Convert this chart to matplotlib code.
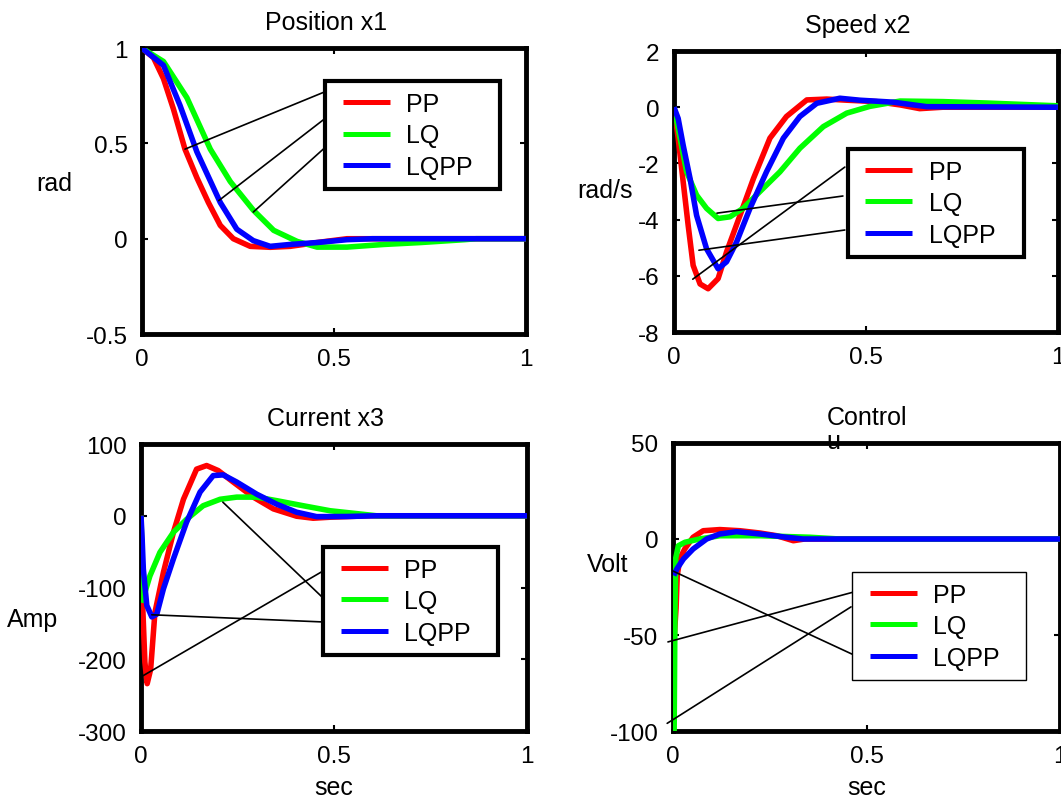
import matplotlib
matplotlib.use('Agg')
import matplotlib.pyplot as plt
from matplotlib.legend_handler import HandlerLine2D
from matplotlib.lines import Line2D
import numpy as np

plt.rcParams['font.family'] = ['Liberation Sans', 'DejaVu Sans']

labels = ['PP', 'LQ', 'LQPP']
colors = ['#ff0000', '#00ff00', '#0000ff']

# ---------------- Position x1 ----------------
t_x1_pp = [0, 0.03, 0.056, 0.082, 0.112, 0.143, 0.173, 0.204, 0.238, 0.282, 0.334, 0.386, 0.456, 0.534, 1.0]
x1_pp = [1.0, 0.95, 0.84, 0.68, 0.47, 0.32, 0.19, 0.07, 0.0, -0.04, -0.045, -0.04, -0.02, 0.0, 0.0]
t_x1_lq = [0, 0.056, 0.117, 0.178, 0.23, 0.29, 0.343, 0.404, 0.456, 0.534, 0.63, 0.726, 0.84, 0.87, 1.0]
x1_lq = [1.0, 0.93, 0.74, 0.47, 0.30, 0.15, 0.044, -0.014, -0.044, -0.044, -0.03, -0.02, -0.005, 0.0, 0.0]
t_x1_lqpp = [0, 0.056, 0.099, 0.143, 0.204, 0.247, 0.29, 0.334, 0.386, 0.456, 0.534, 0.6, 1.0]
x1_lqpp = [1.0, 0.91, 0.70, 0.456, 0.19, 0.05, -0.01, -0.04, -0.03, -0.02, -0.005, 0.0, 0.0]

# ---------------- Speed x2 ----------------
t_x2_pp = [0, 0.011, 0.024, 0.037, 0.05, 0.068, 0.089, 0.115, 0.137, 0.172, 0.207, 0.25, 0.293, 0.346, 0.398, 0.45, 0.528, 0.59, 0.64, 0.7, 1.0]
x2_pp = [0, -1.1, -2.65, -4.2, -5.63, -6.29, -6.46, -6.1, -5.15, -3.85, -2.54, -1.1, -0.33, 0.26, 0.29, 0.25, 0.2, 0.08, -0.05, 0.0, 0.0]
t_x2_lq = [0, 0.016, 0.033, 0.059, 0.085, 0.115, 0.146, 0.18, 0.224, 0.276, 0.328, 0.389, 0.45, 0.51, 0.589, 0.701, 0.814, 1.0]
x2_lq = [0, -1.1, -2.3, -3.13, -3.6, -3.96, -3.9, -3.6, -3.0, -2.3, -1.46, -0.69, -0.21, 0.03, 0.22, 0.2, 0.15, 0.05]
t_x2_lqpp = [0, 0.011, 0.024, 0.042, 0.059, 0.085, 0.115, 0.137, 0.163, 0.198, 0.241, 0.285, 0.328, 0.372, 0.432, 0.484, 0.571, 0.658, 1.0]
x2_lqpp = [0, -0.4, -1.35, -2.54, -3.85, -5.04, -5.75, -5.5, -4.8, -3.6, -2.3, -1.1, -0.33, 0.14, 0.32, 0.25, 0.18, 0.02, 0.0]

# ---------------- Current x3 ----------------
t_x3_pp = [0, 0.004, 0.01, 0.016, 0.025, 0.036, 0.058, 0.084, 0.11, 0.144, 0.17, 0.2, 0.239, 0.291, 0.343, 0.403, 0.446, 0.49, 0.59, 1.0]
x3_pp = [0, -120, -204, -234, -214, -135, -79, -23, 23, 65, 70, 63, 47, 26, 9.6, -0.6, -3.4, -2, 0, 0]
t_x3_lq = [0, 0.005, 0.01, 0.023, 0.049, 0.084, 0.118, 0.161, 0.205, 0.248, 0.3, 0.352, 0.42, 0.49, 0.576, 0.61, 1.0]
x3_lq = [0, -118, -107, -84, -51, -23, -5, 14, 23, 26, 26, 21, 14, 7, 2, 0, 0]
t_x3_lqpp = [0, 0.003, 0.006, 0.015, 0.028, 0.041, 0.058, 0.084, 0.118, 0.153, 0.187, 0.213, 0.248, 0.3, 0.352, 0.403, 0.455, 0.533, 0.61, 1.0]
x3_lqpp = [0, -33, -74, -125, -141, -137, -102, -60, -9, 33, 56, 57, 47, 30, 16, 5, -1.2, -1, 0, 0]

# ---------------- Control u ----------------
t_u_pp = [0.002, 0.008, 0.011, 0.018, 0.031, 0.052, 0.078, 0.121, 0.173, 0.225, 0.268, 0.311, 0.34, 1.0]
u_pp = [-55, -36, -19, -10, -5, 0.9, 4.3, 4.9, 4.3, 3.1, 1.7, -0.9, 0, 0]
t_u_lq = [0.003, 0.005, 0.007, 0.014, 0.031, 0.069, 0.121, 0.225, 0.354, 0.43, 1.0]
u_lq = [-100, -40, -10, -3.5, -1.7, 0, 1.7, 1.7, 0.9, 0, 0]
t_u_lqpp = [0.002, 0.01, 0.027, 0.052, 0.087, 0.121, 0.164, 0.225, 0.293, 0.336, 1.0]
u_lqpp = [-19, -15.6, -10.4, -5.2, 0, 2.6, 3.8, 2.6, 0.9, 0, 0]

panels = [
    dict(title='Position x1', ylabel='rad', ylim=(-0.5, 1), yticks=[-0.5, 0, 0.5, 1],
         yticklabels=['-0.5', '0', '0.5', '1'],
         series=[(t_x1_pp, x1_pp), (t_x1_lq, x1_lq), (t_x1_lqpp, x1_lqpp)]),
    dict(title='Speed x2', ylabel='rad/s', ylim=(-8, 2), yticks=[-8, -6, -4, -2, 0, 2],
         yticklabels=['-8', '-6', '-4', '-2', '0', '2'],
         series=[(t_x2_pp, x2_pp), (t_x2_lq, x2_lq), (t_x2_lqpp, x2_lqpp)]),
    dict(title='Current x3', ylabel='Amp', ylim=(-300, 100), yticks=[-300, -200, -100, 0, 100],
         yticklabels=['-300', '-200', '-100', '0', '100'],
         series=[(t_x3_pp, x3_pp), (t_x3_lq, x3_lq), (t_x3_lqpp, x3_lqpp)]),
    dict(title='Control\nu', ylabel='Volt', ylim=(-100, 50), yticks=[-100, -50, 0, 50],
         yticklabels=['-100', '-50', '0', '50'],
         series=[(t_u_pp, u_pp), (t_u_lq, u_lq), (t_u_lqpp, u_lqpp)]),
]

# layout (figure fractions)
rects = [
    [0.1338, 0.5828, 0.3619, 0.3560],
    [0.6352, 0.5853, 0.3619, 0.3499],
    [0.1329, 0.0884, 0.3638, 0.3574],
    [0.6343, 0.0884, 0.3648, 0.3587],
]
ylabel_pos = [(-0.229, 0.53), (-0.18, 0.505), (-0.28, 0.39), (-0.17, 0.58)]
# legend boxes: (left, top, width) in axes fraction
legend_box = [(0.477, 0.884, 0.455), (0.453, 0.651, 0.458), (0.4715, 0.641, 0.4535), (0.4625, 0.552, 0.4495)]
legend_lw = [3.0, 3.0, 3.0, 1.0]
# leader lines: (legend-side point in axes fraction) -> (curve-side point in data coords)
leaders = [
    [((0.474, 0.846), (0.112, 0.47)), ((0.474, 0.751), (0.20, 0.20)), ((0.474, 0.649), (0.29, 0.14))],
    [((0.445, 0.587), (0.049, -6.12)), ((0.440, 0.484), (0.112, -3.77)), ((0.445, 0.363), (0.065, -5.09))],
    [((0.4715, 0.5575), (0.005, -223)), ((0.469, 0.467), (0.212, 19)), ((0.4715, 0.380), (0.028, -138))],
    [((0.468, 0.483), (-0.013, -53.6)), ((0.46, 0.431), (-0.015, -96)), ((0.4625, 0.267), (0.0, -16.7))],
]


class ShiftedLine(HandlerLine2D):
    """Legend line handle drawn only on the right part of the handle box."""
    def create_artists(self, legend, orig_handle, xdescent, ydescent, width, height,
                       fontsize, trans):
        off = 0.28 * fontsize
        return super().create_artists(legend, orig_handle, xdescent - off, ydescent,
                                      width - off, height, fontsize, trans)


fig = plt.figure(figsize=(10.61, 8.03), dpi=100)
FS = 18

for i, p in enumerate(panels):
    ax = fig.add_axes(rects[i])
    for (t, v), c, lab in zip(p['series'], colors, labels):
        ax.plot(t, v, color=c, lw=4.0, label=lab, solid_joinstyle='round',
                solid_capstyle='butt', zorder=3)
    ax.set_xlim(0, 1)
    ax.set_ylim(*p['ylim'])
    ax.set_xticks([0, 0.5, 1])
    ax.set_xticklabels(['0', '0.5', '1'])
    ax.set_yticks(p['yticks'])
    ax.set_yticklabels(p['yticklabels'])
    ax.tick_params(direction='in', length=4, width=1.5, top=True, right=True,
                   labelsize=FS - 0.5)
    ax.tick_params(axis='x', pad=10)
    ax.tick_params(axis='y', pad=10.5)
    for s in ax.spines.values():
        s.set_linewidth(3.5)
    if i == 3:
        ax.text(0.5, 0.965, p['title'], transform=ax.transAxes, ha='center', va='bottom',
                multialignment='left', fontsize=FS, linespacing=1.0, zorder=2)
    else:
        ax.set_title(p['title'], fontsize=FS, pad=14, x=0.479)
    ax.text(ylabel_pos[i][0], ylabel_pos[i][1], p['ylabel'], transform=ax.transAxes,
            ha='center', va='center', fontsize=FS)
    if i >= 2:
        ax.set_xlabel('sec', fontsize=FS, labelpad=6)
    for (fxy, dxy) in leaders[i]:
        ax.annotate('', xy=dxy, xycoords='data', xytext=fxy, textcoords='axes fraction',
                    arrowprops=dict(arrowstyle='-', lw=1.2, color='k', shrinkA=0, shrinkB=0),
                    annotation_clip=False)
    lx, ly, lw_ = legend_box[i]
    leg = ax.legend(loc='upper left', bbox_to_anchor=(lx, ly - 0.4, lw_, 0.4), mode='expand',
                    fontsize=FS, frameon=True, fancybox=False, edgecolor='k', framealpha=1,
                    borderpad=0.42, labelspacing=0.3, handlelength=2.16,
                    handletextpad=0.67, borderaxespad=0,
                    handler_map={Line2D: ShiftedLine()})
    leg.set_zorder(5)
    leg.get_frame().set_linewidth(legend_lw[i])
    for h in leg.get_lines():
        h.set_linewidth(3.6)

fig.savefig('out.png', dpi=100)
